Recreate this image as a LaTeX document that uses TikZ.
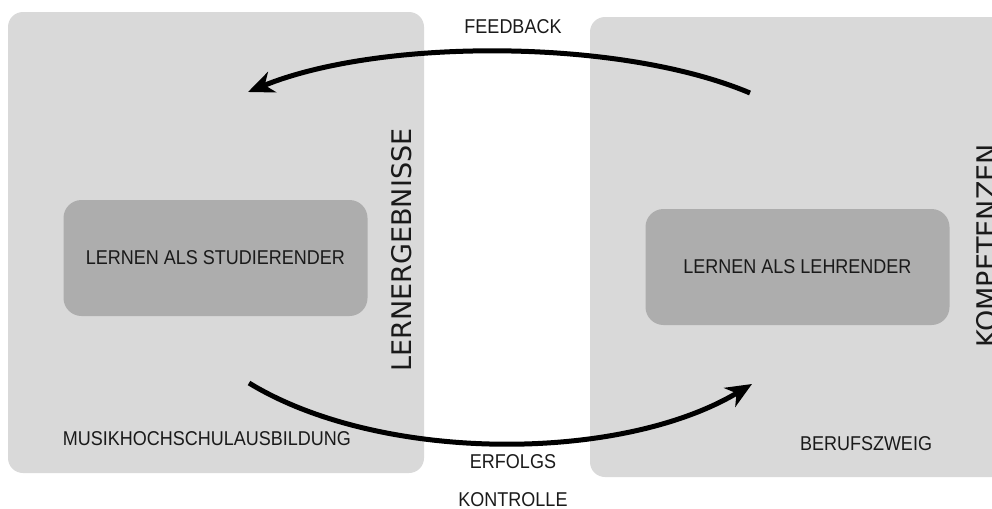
\documentclass[tikz,border=0pt]{standalone}
\usepackage{fontspec}
\setmainfont{Liberation Sans}[FakeStretch=0.9]
\newfontfamily\widefont{DejaVu Sans}
\usepackage{tikz}
\usetikzlibrary{arrows.meta,positioning}
\definecolor{cPale}{HTML}{D9D9D9}
\definecolor{cMid}{HTML}{ADADAD}
\definecolor{cInk}{HTML}{1A1A1A}
\tikzset{
  outerbox/.style={fill=cPale,draw=none,rounded corners=7.5pt,inner sep=0pt},
  innerbox/.style={fill=cMid,draw=none,rounded corners=9pt,align=center,font=\fontsize{10}{12}\selectfont,text=cInk,minimum width=152pt,minimum height=58pt},
  lbl/.style={font=\fontsize{10}{12}\selectfont,text=cInk,inner sep=1pt},
  vlbl/.style={font=\widefont\fontsize{13.5}{16}\selectfont,text=cInk,rotate=90,inner sep=0pt},
  loop/.style={-{Stealth[length=13pt,width=11pt,inset=4pt]},line width=2.5pt,color=black},
}

\begin{document}
\begin{tikzpicture}[x=0.5pt,y=-0.5pt]
  \useasboundingbox (0,0) rectangle (992,509);
  \node[outerbox,minimum width=208pt,minimum height=230.5pt] (hochschule) at (216,242.5) {};
  \node[outerbox,minimum width=210pt,minimum height=230pt] (beruf) at (800,247) {};
  \node[innerbox] (studierend) at (215.5,258) {LERNEN ALS STUDIERENDER};
  \node[innerbox] (lehrend) at (797.5,267) {LERNEN ALS LEHRENDER};
  \node[vlbl] (ergebnisse) at (402,250) {LERNERGEBNISSE};
  \node[vlbl] (kompetenzen) at (987,246) {KOMPETENZEN};
  \node[lbl] (ausbildung) at (207,439) {MUSIKHOCHSCHULAUSBILDUNG};
  \node[lbl] (zweig) at (866,444) {BERUFSZWEIG};
  \node[lbl] (feedback) at (513,27) {FEEDBACK};
  \node[lbl] (erfolgs) at (513,462) {ERFOLGS};
  \node[lbl] (kontrolle) at (513,500) {KONTROLLE};
  \coordinate (fbFrom) at (750,93);
  \coordinate (fbTo) at (248,92);
  \coordinate (ekFrom) at (249,383);
  \coordinate (ekTo) at (752,384);
  \draw[loop] (fbFrom) .. controls (620,38) and (380,38) .. (fbTo);
  \draw[loop] (ekFrom) .. controls (380,463) and (620,463) .. (ekTo);
\end{tikzpicture}
\end{document}
